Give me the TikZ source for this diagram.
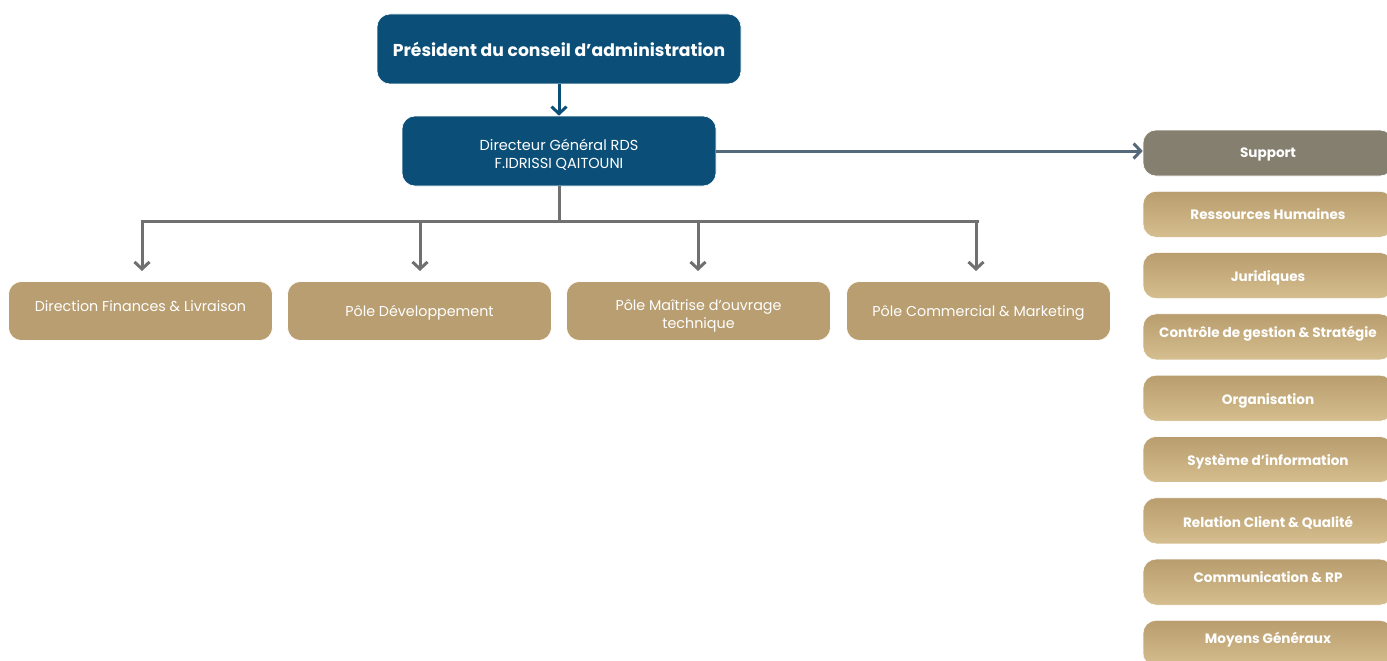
\documentclass[tikz,border=0pt]{standalone}
\usepackage{fontspec}
\setmainfont{Poppins}
\usetikzlibrary{arrows.meta}
\definecolor{navy}{HTML}{0B4F78}
\definecolor{gold}{HTML}{B89E70}
\definecolor{goldtop}{HTML}{B99D6E}
\definecolor{goldbot}{HTML}{D5BE8F}
\definecolor{supgray}{HTML}{857F70}
\definecolor{linegray}{HTML}{707070}
\definecolor{slate}{HTML}{56697A}
\newcommand{\shtxt}[2]{\raisebox{#1}[\height][\depth]{#2}}
\newcommand{\twol}[2]{\begin{tabular}{@{}c@{}}#1\\#2\end{tabular}}
\tikzset{
  x=1pt,y=-1pt,
  topbox/.style={fill=navy, draw=white, line width=0.6pt, rounded corners=13pt, text=white, align=center},
  polebox/.style={fill=gold, draw=white, line width=0.6pt, rounded corners=13pt, text=white, align=center, minimum width=264pt, minimum height=59pt, font=\fontsize{14.3}{18}\selectfont},
  sidebox/.style={draw=white, line width=0.6pt, rounded corners=13pt, text=white, align=center, minimum width=250pt, minimum height=46pt, top color=goldtop, bottom color=goldbot, font=\fontsize{13.6}{16}\selectfont\bfseries},
  chev/.style={-{Straight Barb[length=7pt,width=15pt,line width=3pt]}, line width=3pt},
}
\begin{document}
\begin{tikzpicture}
\useasboundingbox (0,0) rectangle (1387,661);
\clip (0,0) rectangle (1387,661);
\node[topbox, minimum width=364pt, minimum height=70pt, font=\fontsize{17.2}{20}\selectfont\bfseries] (pres) at (559,49) {Président du conseil d’administration};
\node[topbox, minimum width=314pt, minimum height=70pt, font=\fontsize{14.5}{18}\selectfont] (dg) at (559,151) {\shtxt{-5pt}{\twol{Directeur Général RDS}{F.IDRISSI QAITOUNI}}};
\draw[chev, draw=navy] (pres.south) -- (dg.north);

\node[polebox] (p1) at (140.5,311) {\shtxt{5pt}{Direction Finances \& Livraison}};
\node[polebox] (p2) at (419.5,311) {\shtxt{-2pt}{Pôle Développement}};
\node[polebox] (p3) at (698.5,311) {\shtxt{-5pt}{\twol{Pôle Maîtrise d’ouvrage}{technique}}};
\node[polebox] (p4) at (978.5,311) {\shtxt{-2pt}{Pôle Commercial \& Marketing}};

\coordinate (bus) at (559,221);
\draw[linegray, line width=3pt] (dg.south) -- (bus);
\draw[linegray, line width=3pt] (bus -| p1.center) -- (bus -| p4.center);
\foreach \n/\x in {p1/142,p2/420,p3/698,p4/976}{
  \draw[chev, draw=linegray] (\x,221) -- (\x,271);
}

\node[sidebox, top color=supgray, bottom color=supgray] (sup) at (1268,153) {\shtxt{-1pt}{Support}};
\draw[chev, draw=slate] (dg.east) -- (dg.east -| sup.west);
\foreach \i/\d/\t in {1/0pt/Ressources Humaines,2/-2pt/Juridiques,3/3pt/Contrôle de gestion \& Stratégie,4/-3pt/Organisation,5/-2pt/Système d’information,6/-2pt/Relation Client \& Qualité,7/5pt/Communication \& RP,8/4pt/Moyens Généraux}{
  \node[sidebox] (s\i) at (1268,{153+61.3*\i}) {\shtxt{\d}{\t}};
}
\end{tikzpicture}
\end{document}
